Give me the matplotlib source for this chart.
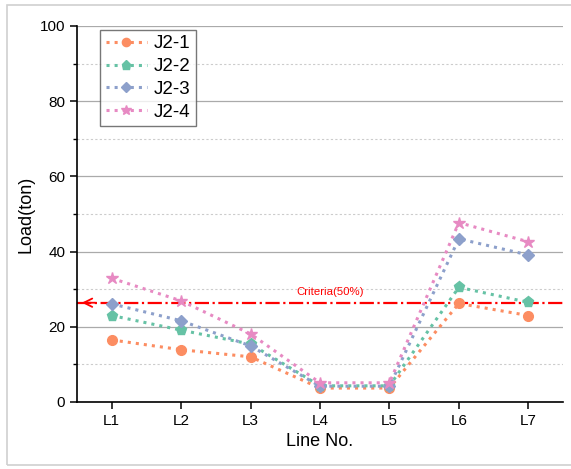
import matplotlib
matplotlib.use('Agg')
import matplotlib.pyplot as plt
from matplotlib.patches import Rectangle
from matplotlib.ticker import MultipleLocator

plt.rcParams['font.family'] = ['Liberation Sans', 'DejaVu Sans']

lines = ['L1', 'L2', 'L3', 'L4', 'L5', 'L6', 'L7']
j2_1 = [16.5, 13.9, 12.0, 3.7, 3.7, 26.2, 23.0]
j2_2 = [23.0, 19.1, 15.4, 4.3, 4.3, 30.5, 26.5]
j2_3 = [26.1, 21.6, 14.9, 4.2, 4.2, 43.4, 39.1]
j2_4 = [32.9, 26.9, 18.1, 5.1, 5.1, 47.7, 42.6]
criteria = 26.4

series = [
    ('J2-1', j2_1, '#fc8d62', 'o', 7),
    ('J2-2', j2_2, '#66c2a5', 'p', 8),
    ('J2-3', j2_3, '#8da0cb', 'D', 6),
    ('J2-4', j2_4, '#e78ac3', '*', 9),
]

fig = plt.figure(figsize=(5.71, 4.69), dpi=100)
ax = fig.add_axes([0.1349, 0.1429, 0.8511, 0.8017])

x = list(range(1, len(lines) + 1))
for name, vals, color, marker, ms in series:
    ax.plot(x, vals, linestyle=':', linewidth=2.2, color=color,
            marker=marker, markersize=ms, label=name)

# criteria line with open arrow head at the left
ax.axhline(criteria, color='red', linestyle='-.', linewidth=1.6, zorder=1)
ax.annotate('', xy=(0.53, criteria), xytext=(0.8, criteria),
            arrowprops=dict(arrowstyle='->,head_length=0.6,head_width=0.3',
                            color='red', lw=1.3))
ax.text(4.14, criteria + 1.4, 'Criteria(50%)', color='red', fontsize=8.2,
        ha='center', va='bottom')

ax.set_xlim(0.5, 7.5)
ax.set_ylim(0, 100)
ax.set_xticks(x)
ax.set_xticklabels(lines)
ax.set_yticks(range(0, 101, 20))
ax.yaxis.set_minor_locator(MultipleLocator(10))
ax.grid(True, which='major', axis='y', color='#aaaaaa', linewidth=0.9)
ax.grid(True, which='minor', axis='y', color='#cccccc', linewidth=0.8, linestyle=(0, (2, 2)))
ax.set_axisbelow(True)
for t in ax.yaxis.get_major_ticks():
    if t.get_loc() >= 100:
        t.gridline.set_visible(False)
for t in ax.yaxis.get_minor_ticks():
    if t.get_loc() >= 100:
        t.gridline.set_visible(False)

ax.spines['top'].set_visible(False)
ax.spines['right'].set_visible(False)
ax.spines['left'].set_linewidth(1.2)
ax.spines['bottom'].set_linewidth(1.2)
ax.tick_params(axis='both', which='major', labelsize=11, length=5, width=1.1, direction='out')
ax.tick_params(axis='y', which='minor', length=3, width=1.0, direction='out')

ax.set_xlabel('Line No.', fontsize=13)
ax.set_ylabel('Load(ton)', fontsize=13)

leg = ax.legend(loc='upper left', bbox_to_anchor=(0.04, 1.0), fontsize=13.5,
                frameon=True, fancybox=False, edgecolor='#555555',
                handlelength=2.2, labelspacing=0.3, borderpad=0.3,
                handletextpad=0.35, borderaxespad=0.2, markerscale=0.85)
leg.get_frame().set_linewidth(1.0)

fig.patches.append(Rectangle((0.012, 0.009), 1.1, 0.98, transform=fig.transFigure,
                             fill=False, edgecolor='#d0d0d0', linewidth=1.2))

fig.savefig('out.png', dpi=100)
